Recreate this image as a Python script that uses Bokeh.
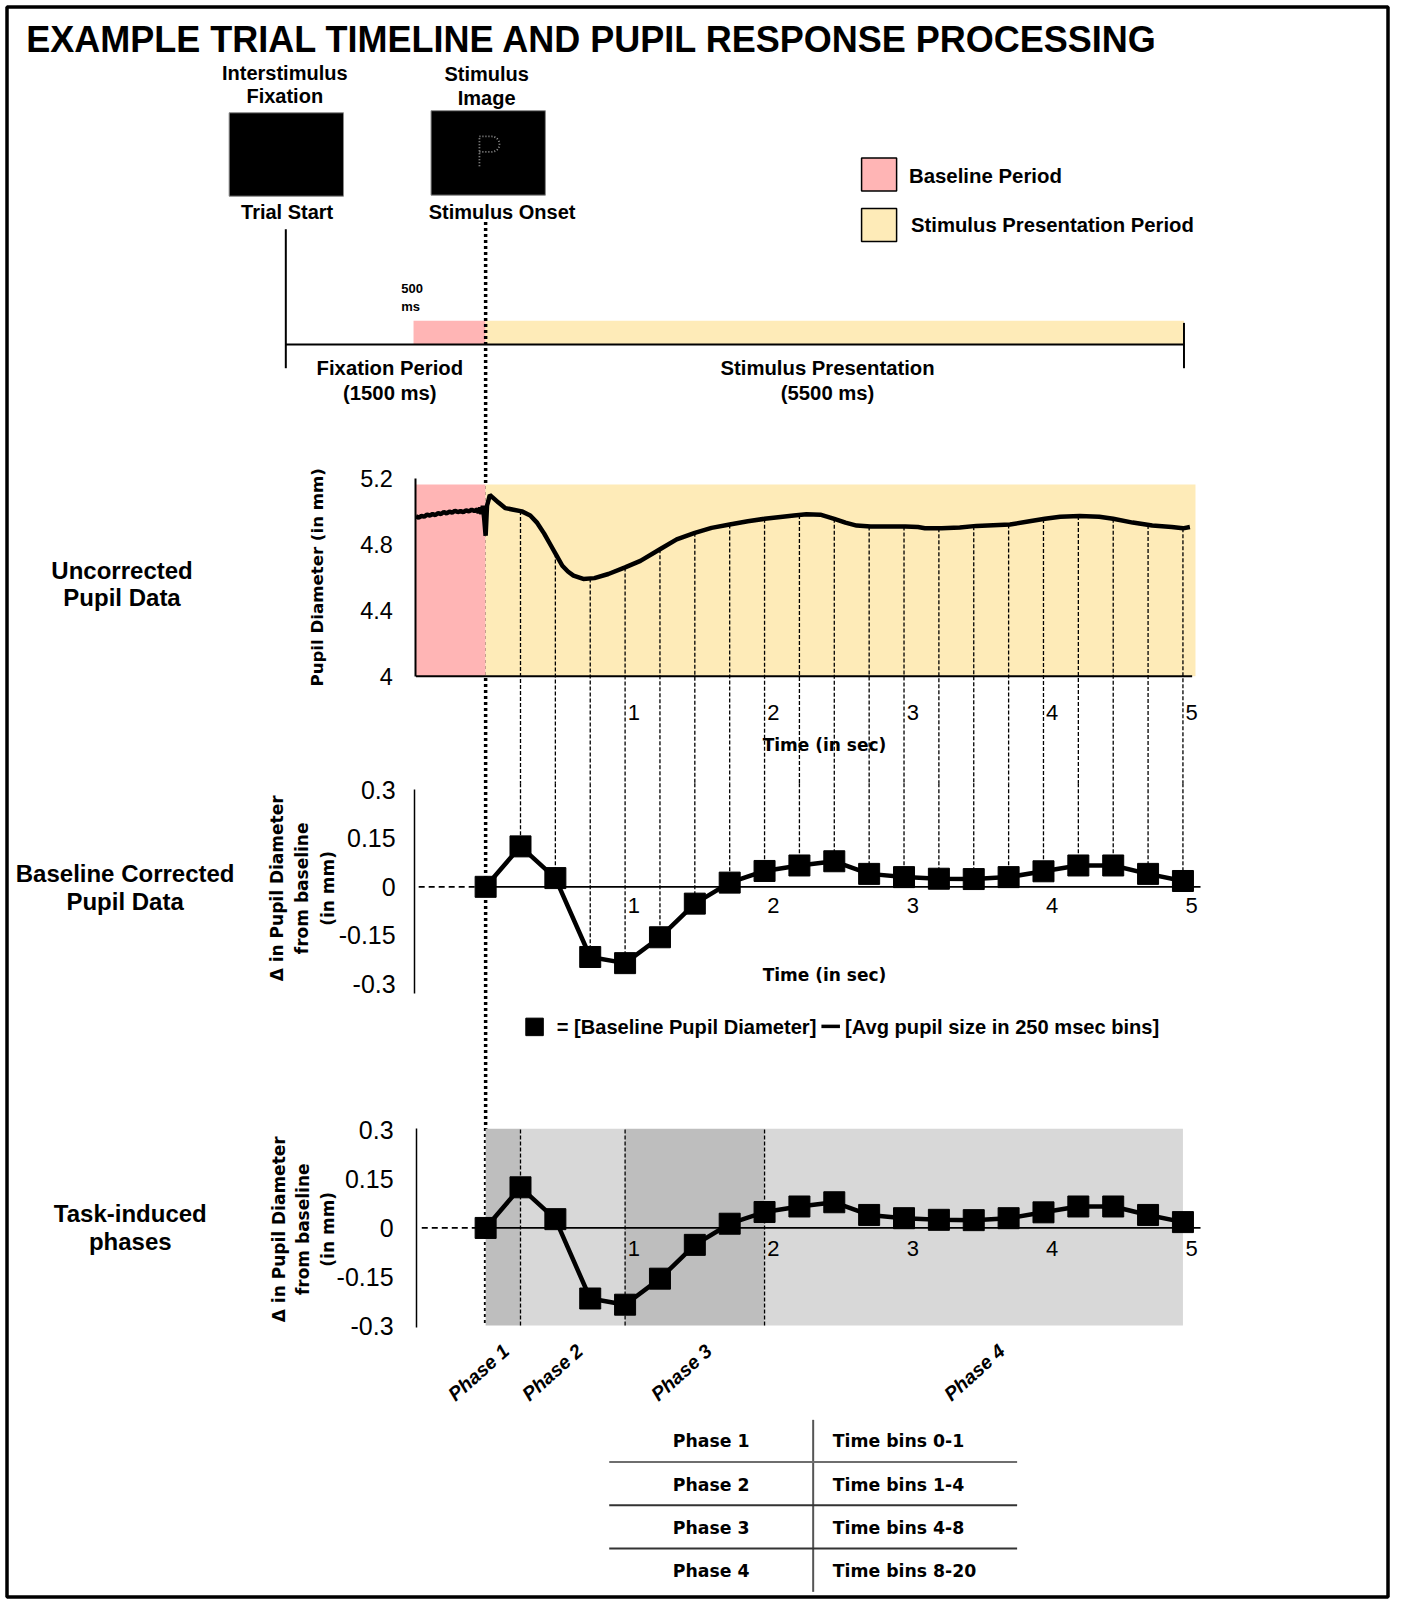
import numpy as np
from bokeh.plotting import figure
from bokeh.models import Range1d, LinearAxis, FixedTicker
from bokeh.core.properties import value
from bokeh.embed import file_html
from bokeh.resources import INLINE

# ---------------- data ----------------
bin_time_s = [0.0, 0.25, 0.5, 0.75, 1.0, 1.25, 1.5, 1.75, 2.0, 2.25, 2.5,
              2.75, 3.0, 3.25, 3.5, 3.75, 4.0, 4.25, 4.5, 4.75, 5.0]
baseline_corrected_mm = [0.0, 0.125, 0.027, -0.217, -0.236, -0.156, -0.052, 0.013, 0.049,
                         0.066, 0.079, 0.040, 0.030, 0.025, 0.024, 0.030, 0.048, 0.066,
                         0.066, 0.040, 0.018]

raw_time_s = [-0.50, -0.48, -0.46, -0.44, -0.42, -0.40, -0.38, -0.36, -0.34, -0.32, -0.30,
              -0.28, -0.26, -0.24, -0.22, -0.20, -0.18, -0.16, -0.14, -0.12, -0.10, -0.08,
              -0.06, -0.05, -0.04, -0.03, -0.02, -0.01, 0.00, 0.01, 0.03, 0.05, 0.09, 0.14,
              0.20, 0.26, 0.32, 0.37, 0.42, 0.47, 0.51, 0.55, 0.59, 0.63, 0.70, 0.78, 0.88,
              1.00, 1.11, 1.25, 1.37, 1.50, 1.62, 1.75, 1.88, 2.00, 2.13, 2.21, 2.30, 2.40,
              2.50, 2.58, 2.66, 2.76, 3.01, 3.10, 3.15, 3.27, 3.40, 3.52, 3.76, 3.90, 4.01,
              4.12, 4.26, 4.40, 4.50, 4.64, 4.78, 4.92, 5.00, 5.05]
raw_pupil_mm = [4.970, 4.962, 4.972, 4.968, 4.980, 4.975, 4.984, 4.978, 4.990, 4.984, 4.996,
                4.988, 4.998, 4.992, 5.004, 4.996, 5.002, 4.995, 5.006, 5.000, 5.010, 5.002,
                5.012, 4.990, 5.024, 4.984, 5.034, 4.953, 4.852, 5.034, 5.099, 5.085, 5.055,
                5.020, 5.010, 5.000, 4.975, 4.930, 4.865, 4.790, 4.730, 4.670, 4.635, 4.610,
                4.590, 4.595, 4.620, 4.660, 4.700, 4.770, 4.830, 4.870, 4.900, 4.920, 4.940,
                4.955, 4.968, 4.975, 4.982, 4.980, 4.955, 4.932, 4.914, 4.908, 4.908, 4.905,
                4.898, 4.897, 4.902, 4.912, 4.920, 4.940, 4.955, 4.968, 4.972, 4.968, 4.955,
                4.932, 4.914, 4.905, 4.897, 4.905]

raw_y_ticks = [4, 4.4, 4.8, 5.2]
raw_y_labels = ["4", "4.4", "4.8", "5.2"]
delta_y_ticks = [-0.3, -0.15, 0, 0.15, 0.3]
delta_y_labels = ["-0.3", "-0.15", "0", "0.15", "0.3"]
time_ticks = [1, 2, 3, 4, 5]

phase_names = ["Phase 1", "Phase 2", "Phase 3", "Phase 4"]
phase_start_s = [0.0, 0.25, 1.0, 2.0]
phase_end_s = [0.25, 1.0, 2.0, 5.0]
phase_bins = ["Time bins 0-1", "Time bins 1-4", "Time bins 4-8", "Time bins 8-20"]

baseline_window_s = [-0.5, 0.0]
stimulus_window_s = [0.0, 5.09]

# ---------------- colours / fonts ----------------
PINK = "#ffb5b5"
YELLOW = "#feebb8"
DARK_GREY = "#bebebe"
LIGHT_GREY = "#d8d8d8"
phase_colors = [DARK_GREY, LIGHT_GREY, DARK_GREY, LIGHT_GREY]
ARIAL = "Liberation Sans"
TAHOMA = "DejaVu Sans"

# ---------------- canvas: reference pixel grid ----------------
S = 1.03
W, H = 1390, 1599
BX0, BX1 = 0.0, W / S
BY0, BY1 = H / S, 0.0


def xrange_for(a, b):      # screen px = a + b * v
    return Range1d(start=(BX0 - a) / b, end=(BX1 - a) / b)


def yrange_for(a, b):      # screen px = a - b * v
    return Range1d(start=(a - BY0) / b, end=(a - BY1) / b)


T_A, T_B = 471.0, 135.4              # time axis (all three charts)
U_A, U_B = 656.0 + 4 * 160.0, 160.0  # uncorrected pupil (mm)
B_A, B_B = 860.5, 314.0              # baseline corrected
C_A, C_B = 1191.7, 315.7             # task-induced phases

p = figure(width=W, height=H, x_range=Range1d(BX0, BX1), y_range=Range1d(BY0, BY1),
           output_backend="svg", toolbar_location=None, min_border=0,
           x_axis_location=None, y_axis_location=None)
p.grid.visible = False
p.outline_line_color = None
p.background_fill_color = "white"
p.border_fill_color = "white"
p.extra_x_ranges = {"t": xrange_for(T_A, T_B), "tl": xrange_for(T_A + 8.5, T_B)}
p.extra_y_ranges = {"u": yrange_for(U_A, U_B), "b": yrange_for(B_A, B_B), "c": yrange_for(C_A, C_B)}


def txt(x, y, s, size, font=ARIAL, style="bold", align="center", baseline="middle",
        angle=0.0, color="black", xr="default", yr="default"):
    p.text(x=[x], y=[y], text=[s], text_font=value(font), text_font_size=f"{size}px",
           text_font_style=style, text_align=align, text_baseline=baseline, angle=angle,
           text_color=color, x_range_name=xr, y_range_name=yr)


def y_axis(yname, loc, ticks, labels, bounds, standoff, size, lw):
    ax = LinearAxis(x_range_name="t", y_range_name=yname, fixed_location=loc,
                    ticker=FixedTicker(ticks=ticks), bounds=bounds,
                    major_label_overrides=dict(zip(ticks, labels)),
                    major_tick_line_color=None, minor_tick_line_color=None,
                    major_tick_out=0, major_tick_in=0, minor_tick_out=0, minor_tick_in=0,
                    major_label_standoff=standoff, major_label_text_font=ARIAL,
                    major_label_text_font_size=f"{size}px", major_label_text_color="black",
                    axis_line_color="black", axis_line_width=lw)
    p.add_layout(ax, "left")


def x_axis(yname, loc, standoff, size):
    ax = LinearAxis(x_range_name="tl", y_range_name=yname, fixed_location=loc,
                    ticker=FixedTicker(ticks=time_ticks), axis_line_color=None,
                    major_tick_line_color=None, minor_tick_line_color=None,
                    major_tick_out=0, major_tick_in=0, minor_tick_out=0, minor_tick_in=0,
                    major_label_standoff=standoff, major_label_text_font=ARIAL,
                    major_label_text_font_size=f"{size}px", major_label_text_color="black")
    p.add_layout(ax, "below")


# ---------------- frame + title ----------------
p.quad(left=[6.5 / S], right=[(W - 2.5) / S], top=[6.5 / S], bottom=[(H - 2.5) / S],
       fill_color=None, line_color="black", line_width=3.5)
txt(25, 38, "EXAMPLE TRIAL TIMELINE AND PUPIL RESPONSE PROCESSING", 36, align="left")

# ---------------- trial timeline ----------------
txt(276, 70, "Interstimulus", 20)
txt(276, 93, "Fixation", 20)
txt(472, 71, "Stimulus", 20)
txt(472, 95, "Image", 20)
p.quad(left=[222, 418], right=[333, 529], top=[109, 107], bottom=[190, 189],
       fill_color="black", line_color="#8a8a8a", line_width=1)
# dotted "P" inside the stimulus image
p.line(x=[465, 465], y=[161, 132], line_color="#9a9a9a", line_width=1.8, line_dash="1 2")
bowl = np.linspace(-np.pi / 2, np.pi / 2, 14)
p.line(x=np.r_[465, 477 + 7.5 * np.cos(bowl), 465], y=np.r_[132, 139.5 + 7.5 * np.sin(bowl), 147],
       line_color="#9a9a9a", line_width=1.8, line_dash="1 2")
txt(281, 205, "Trial  Start", 20)
txt(487, 205, "Stimulus Onset", 20)

p.quad(left=[401, 471], right=[471, 1149], top=[311, 311], bottom=[334, 334],
       fill_color=[PINK, YELLOW], line_color=None)
p.segment(x0=[277, 277, 1149], y0=[334, 222, 313], x1=[1149, 277, 1149], y1=[334, 357, 357],
          line_color="black", line_width=2)
txt(389, 280, "500", 13, align="left")
txt(389, 297, "ms", 13, align="left")
txt(378, 357, "Fixation Period", 20.3)
txt(378, 381, "(1500 ms)", 20.3)
txt(803, 357, "Stimulus Presentation", 20.3)
txt(803, 381, "(5500 ms)", 20.3)

# legend
p.quad(left=[836, 836], right=[870, 870], top=[153, 202], bottom=[185, 234],
       fill_color=[PINK, YELLOW], line_color="black", line_width=1.5)
txt(882, 170, "Baseline Period", 20.4, align="left")
txt(884, 218, "Stimulus Presentation Period", 20.3, align="left")

# onset dotted line (through all panels)
p.segment(x0=[0], x1=[0], y0=[215], y1=[1287], x_range_name="t",
          line_color="black", line_width=3.5, line_dash="3 3")

# ---------------- chart 1: uncorrected ----------------
p.quad(left=[baseline_window_s[0], stimulus_window_s[0]],
       right=[baseline_window_s[1], stimulus_window_s[1]],
       bottom=[4, 4], top=[5.1625, 5.1625], fill_color=[PINK, YELLOW], line_color=None,
       x_range_name="t", y_range_name="u")
curve_at_bins = np.interp(bin_time_s, raw_time_s, raw_pupil_mm)
JUNCTION_PX = 760.0
j_u = (U_A - JUNCTION_PX) / U_B
j_b = (B_A - JUNCTION_PX) / B_B
p.segment(x0=bin_time_s[1:], x1=bin_time_s[1:], y0=list(curve_at_bins[1:]),
          y1=[j_u] * 20, x_range_name="t", y_range_name="u",
          line_color="black", line_width=1.3, line_dash="4 2")
p.line(x=raw_time_s, y=raw_pupil_mm, line_color="black", line_width=4.5,
       x_range_name="t", y_range_name="u")
p.segment(x0=[-0.5], x1=[5.066], y0=[4], y1=[4], x_range_name="t", y_range_name="u",
          line_color="black", line_width=2)
y_axis("u", -0.5, raw_y_ticks, raw_y_labels, (4, 5.2), 23, 23.5, 2)
x_axis("u", 4, 29, 22)
txt(308, 560, "Pupil Diameter (in mm)", 16.6, font=TAHOMA, angle=np.pi / 2)
txt(800, 723, "Time (in sec)", 17, font=TAHOMA)
txt(118, 553, "Uncorrected", 24)
txt(118, 580, "Pupil Data", 24)

# ---------------- chart 2: baseline corrected ----------------
p.segment(x0=bin_time_s[1:], x1=bin_time_s[1:], y0=[j_b] * 20,
          y1=baseline_corrected_mm[1:], x_range_name="t", y_range_name="b",
          line_color="black", line_width=1.3, line_dash="4 2")
p.segment(x0=[0], x1=[5.126], y0=[0], y1=[0], x_range_name="t", y_range_name="b",
          line_color="black", line_width=1.8)
p.segment(x0=[-0.48], x1=[-0.044], y0=[0], y1=[0], x_range_name="t", y_range_name="b",
          line_color="black", line_width=1.8, line_dash="6 4")
p.line(x=bin_time_s, y=baseline_corrected_mm, line_color="black", line_width=4.5,
       x_range_name="t", y_range_name="b")
p.scatter(x=bin_time_s, y=baseline_corrected_mm, marker="square", size=21, color="black",
          x_range_name="t", y_range_name="b")
y_axis("b", -0.509, delta_y_ticks, delta_y_labels, (-0.33, 0.3), 19, 25, 1.5)
x_axis("b", 0, 11, 22)
txt(800, 946, "Time (in sec)", 17, font=TAHOMA)
for dx, line in zip([268, 293, 318], ["Δ in Pupil Diameter", "from baseline", "(in mm)"]):
    txt(dx, 862, line, 17, font=TAHOMA, angle=np.pi / 2)
txt(121, 848, "Baseline Corrected", 24)
txt(121, 875, "Pupil Data", 24)

# legend line
p.scatter(x=[518.5], y=[996.5], marker="square", size=17.5, color="black")
txt(540, 997, "= [Baseline Pupil Diameter]", 20.1, align="left")
p.segment(x0=[797], x1=[815], y0=[996], y1=[996], line_color="black", line_width=3.5)
txt(820, 997, "[Avg pupil size in 250 msec bins]", 20.1, align="left")

# ---------------- chart 3: task-induced phases ----------------
p.quad(left=phase_start_s, right=phase_end_s, bottom=[-0.3] * 4, top=[0.305] * 4,
       fill_color=phase_colors, line_color=None, x_range_name="t", y_range_name="c")
p.segment(x0=phase_end_s[:3], x1=phase_end_s[:3], y0=[-0.3] * 3, y1=[0.305] * 3,
          x_range_name="t", y_range_name="c", line_color="black", line_width=1.3,
          line_dash="4 2")
p.segment(x0=[0], x1=[5.126], y0=[0], y1=[0], x_range_name="t", y_range_name="c",
          line_color="black", line_width=1.8)
p.segment(x0=[-0.458], x1=[-0.044], y0=[0], y1=[0], x_range_name="t", y_range_name="c",
          line_color="black", line_width=1.8, line_dash="6 4")
p.line(x=bin_time_s, y=baseline_corrected_mm, line_color="black", line_width=4.5,
       x_range_name="t", y_range_name="c")
p.scatter(x=bin_time_s, y=baseline_corrected_mm, marker="square", size=21, color="black",
          x_range_name="t", y_range_name="c")
y_axis("c", -0.495, delta_y_ticks, delta_y_labels, (-0.305, 0.305), 23, 25, 1.5)
x_axis("c", 0, 13, 22)
for dx, line in zip([270, 294, 318], ["Δ in Pupil Diameter", "from baseline", "(in mm)"]):
    txt(dx, 1193, line, 17, font=TAHOMA, angle=np.pi / 2)
txt(126, 1178, "Task-induced", 24)
txt(126, 1205, "phases", 24)

# rotated phase labels (anchored by their upper-right end near each phase's middle)
label_nudge_s = [0.02, 0.05, 0.1, 0.2]
for name, s0, s1, nudge in zip(phase_names, phase_start_s, phase_end_s, label_nudge_s):
    mid = (s0 + s1) / 2
    p.text(x=[mid + nudge], y=[1308], text=[name], text_font=value(ARIAL), text_font_size="19.5px",
           text_font_style="bold italic", text_align="right", text_baseline="middle",
           angle=0.73, x_range_name="t")

# ---------------- phase table ----------------
p.segment(x0=[789], x1=[789], y0=[1378], y1=[1545], line_color="#555555", line_width=2)
p.segment(x0=[591] * 3, x1=[987] * 3, y0=[1419, 1461, 1503], y1=[1419, 1461, 1503],
          line_color=["#6e6e6e", "#333333", "#333333"], line_width=2)
for row_y, name, bins in zip([1399, 1441, 1483, 1525], phase_names, phase_bins):
    txt(690, row_y, name, 17.3, font=TAHOMA)
    txt(808, row_y, bins, 17.3, font=TAHOMA, align="left")

open("out.html", "w").write(file_html(p, INLINE))
